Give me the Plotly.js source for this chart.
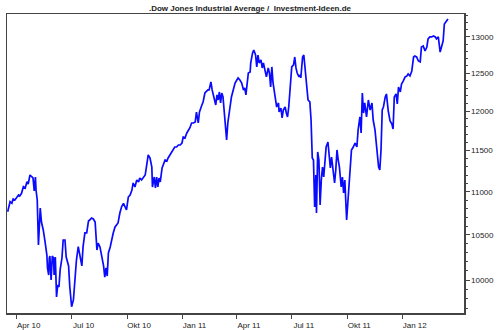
<!DOCTYPE html>
<html>
<head>
<meta charset="utf-8">
<script src="https://cdn.plot.ly/plotly-3.0.1.min.js"></script>
<style>html,body{margin:0;padding:0;background:#fff;}#chart{width:500px;height:330px;}</style>
</head>
<body>
<div id="chart"></div>
<script>
const dates = [
"2010-03-17","2010-03-21","2010-03-24","2010-03-26","2010-03-29","2010-04-04","2010-04-06","2010-04-09","2010-04-12","2010-04-15",
"2010-04-18","2010-04-20","2010-04-23","2010-04-26","2010-04-28","2010-04-30","2010-05-02","2010-05-03","2010-05-05","2010-05-07",
"2010-05-09","2010-05-10","2010-05-12","2010-05-15","2010-05-18","2010-05-21","2010-05-22","2010-05-24","2010-05-25","2010-05-26",
"2010-05-28","2010-05-30","2010-06-01","2010-06-02","2010-06-04","2010-06-06","2010-06-08","2010-06-10","2010-06-12","2010-06-15",
"2010-06-17","2010-06-20","2010-06-22","2010-06-26","2010-06-28","2010-07-01","2010-07-04","2010-07-07","2010-07-09","2010-07-12",
"2010-07-15","2010-07-18","2010-07-20","2010-07-23","2010-07-26","2010-07-29","2010-07-31","2010-08-03","2010-08-06","2010-08-09",
"2010-08-12","2010-08-14","2010-08-17","2010-08-20","2010-08-23","2010-08-25","2010-08-27","2010-08-29","2010-08-31","2010-09-03",
"2010-09-05","2010-09-08","2010-09-11","2010-09-14","2010-09-16","2010-09-19","2010-09-22","2010-09-25","2010-09-28","2010-09-30",
"2010-10-03","2010-10-06","2010-10-09","2010-10-11","2010-10-14","2010-10-17","2010-10-20","2010-10-22","2010-10-25","2010-10-28",
"2010-10-31","2010-11-02","2010-11-05","2010-11-08","2010-11-11","2010-11-12","2010-11-15","2010-11-17","2010-11-19","2010-11-21",
"2010-11-23","2010-11-25","2010-11-28","2010-12-03","2010-12-06","2010-12-08","2010-12-11","2010-12-14","2010-12-17","2010-12-19",
"2010-12-22","2010-12-25","2010-12-28","2010-12-31","2011-01-02","2011-01-05","2011-01-08","2011-01-11","2011-01-13","2011-01-16",
"2011-01-19","2011-01-22","2011-01-24","2011-01-27","2011-01-29","2011-02-02","2011-02-04","2011-02-07","2011-02-09","2011-02-12",
"2011-02-14","2011-02-15","2011-02-17","2011-02-19","2011-02-21","2011-02-23","2011-02-25","2011-02-27","2011-03-01","2011-03-03",
"2011-03-05","2011-03-07","2011-03-09","2011-03-11","2011-03-13","2011-03-15","2011-03-17","2011-03-19","2011-03-21","2011-03-23",
"2011-03-26","2011-03-29","2011-04-01","2011-04-03","2011-04-06","2011-04-09","2011-04-12","2011-04-14","2011-04-16","2011-04-18",
"2011-04-20","2011-04-23","2011-04-24","2011-04-27","2011-04-29","2011-05-02","2011-05-04","2011-05-06","2011-05-08","2011-05-11",
"2011-05-13","2011-05-15","2011-05-18","2011-05-20","2011-05-23","2011-05-25","2011-05-27","2011-05-29","2011-05-31","2011-06-03",
"2011-06-06","2011-06-09","2011-06-10","2011-06-13","2011-06-15","2011-06-17","2011-06-20","2011-06-22","2011-06-24","2011-06-26",
"2011-06-28","2011-07-01","2011-07-04","2011-07-06","2011-07-08","2011-07-10","2011-07-13","2011-07-15","2011-07-16","2011-07-19",
"2011-07-21","2011-07-23","2011-07-26","2011-07-28","2011-07-31","2011-08-02","2011-08-04","2011-08-06","2011-08-08","2011-08-10",
"2011-08-11","2011-08-13","2011-08-15","2011-08-17","2011-08-19","2011-08-21","2011-08-23","2011-08-25","2011-08-27","2011-08-30",
"2011-09-01","2011-09-03","2011-09-05","2011-09-07","2011-09-10","2011-09-12","2011-09-14","2011-09-16","2011-09-18","2011-09-21",
"2011-09-23","2011-09-25","2011-09-27","2011-09-30","2011-10-02","2011-10-04","2011-10-06","2011-10-08","2011-10-11","2011-10-14",
"2011-10-17","2011-10-19","2011-10-22","2011-10-24","2011-10-26","2011-10-28","2011-10-30","2011-11-02","2011-11-05","2011-11-08",
"2011-11-11","2011-11-13","2011-11-16","2011-11-19","2011-11-22","2011-11-24","2011-11-26","2011-11-28","2011-11-30","2011-12-03",
"2011-12-05","2011-12-08","2011-12-11","2011-12-14","2011-12-16","2011-12-18","2011-12-21","2011-12-23","2011-12-25","2011-12-28",
"2011-12-30","2012-01-02","2012-01-05","2012-01-08","2012-01-10","2012-01-13","2012-01-16","2012-01-19","2012-01-21","2012-01-24",
"2012-01-27","2012-01-30","2012-02-01","2012-02-04","2012-02-07","2012-02-10","2012-02-12","2012-02-15","2012-02-18","2012-02-21",
"2012-02-24","2012-02-26","2012-02-29","2012-03-03","2012-03-06","2012-03-08","2012-03-10","2012-03-13","2012-03-16"
];
const dowValues = [
10765,10882,10863,10914,10902,10961,10949,10981,11060,11044,
11120,11092,11200,11180,11164,11008,11176,11020,10902,10385,
10785,10808,10646,10555,10419,10273,10131,10054,10240,10262,
10000,10262,10240,10054,10251,9818,9946,9925,10109,10240,
10441,10441,10251,10153,9925,9716,9787,10032,10218,10366,
10251,10153,10366,10521,10521,10658,10669,10692,10681,10646,
10329,10407,10363,10251,10153,10032,10131,10043,10296,10363,
10441,10521,10589,10612,10635,10750,10824,10863,10820,10785,
10937,10961,11020,11104,11056,11140,11116,11164,11140,11176,
11200,11297,11445,11408,11297,11056,11176,11044,11176,11056,
11164,11116,11285,11383,11371,11408,11445,11482,11507,11544,
11544,11569,11569,11594,11669,11656,11720,11758,11783,11847,
11847,11860,11988,11847,11988,12080,12119,12237,12250,12277,
12277,12304,12383,12277,12185,12145,12080,12211,12145,12250,
12106,12237,12185,11988,11885,11631,11847,11988,12106,12185,
12277,12370,12410,12437,12410,12370,12277,12304,12211,12370,
12504,12518,12640,12777,12818,12749,12586,12749,12640,12681,
12572,12640,12545,12451,12572,12504,12317,12586,12370,12185,
12053,12106,11988,12040,11911,12014,12053,11975,11924,12053,
12317,12586,12613,12722,12572,12504,12451,12478,12437,12722,
12749,12586,12383,12145,12119,11885,11408,11383,10820,11200,
10750,11482,11383,10843,11140,11297,11176,11346,11544,11606,
11420,11285,11420,11261,11104,11261,11507,11383,11297,11056,
11176,10985,11140,10669,10902,11140,11346,11507,11544,11594,
11544,11758,11924,11720,12237,11975,12106,11924,12145,12014,
12106,11885,11758,11544,11297,11261,11507,12014,12053,12185,
12224,12001,11872,11834,11771,12185,12224,12093,12317,12250,
12357,12397,12451,12464,12491,12464,12531,12722,12735,12722,
12667,12654,12860,12874,12804,12860,12972,13000,13000,13014,
13000,12972,13000,12790,12874,12944,13183,13226,13254
];
const xTickVals = ["2010-04-01","2010-07-01","2010-10-01","2011-01-01","2011-04-01","2011-07-01","2011-10-01","2012-01-01"];
const xTickText = ["Apr 10","Jul 10","Okt 10","Jan 11","Apr 11","Jul 11","Okt 11","Jan 12"];
const yTickVals = [10000,10500,11000,11500,12000,12500,13000];
const yTickText = ["10000","10500","11000","11500","12000","12500","13000"];
const yMinorVals = [9700,9800,9900,10100,10200,10300,10400,10600,10700,10800,10900,11100,11200,11300,11400,11600,11700,11800,11900,12100,12200,12300,12400,12600,12700,12800,12900,13100,13200,13300];
const chartTitle = ".Dow Jones Industrial Average /  Investment-Ideen.de";

const font = "Liberation Sans, Arial, sans-serif";
const trace = {
  x: dates, y: dowValues, type: "scatter", mode: "lines",
  line: {color: "#0a0aff", width: 1.7}, hoverinfo: "skip"
};
const layout = {
  width: 500, height: 330,
  margin: {l: 7, r: 36, t: 14, b: 17, pad: 0},
  paper_bgcolor: "#ffffff", plot_bgcolor: "#ffffff",
  showlegend: false,
  title: {text: chartTitle, x: 0.5, xanchor: "center", xref: "container",
          y: 1 - 8/330, yanchor: "middle", yref: "container",
          font: {family: font, size: 8, color: "#222", weight: "bold"}},
  xaxis: {
    type: "date", range: ["2010-03-15 21:00", "2012-04-11 14:00"],
    tickmode: "array", tickvals: xTickVals, ticktext: xTickText,
    ticks: "outside", ticklen: 4, tickwidth: 1, tickcolor: "#444",
    ticklabelshift: 12,
    tickfont: {family: font, size: 8, color: "#222"},
    showgrid: false, zeroline: false,
    showline: true, linecolor: "#444", linewidth: 1.5, mirror: true
  },
  yaxis: {
    type: "log", side: "right",
    range: [Math.log10(9650), Math.log10(13326)],
    tickmode: "array", tickvals: yTickVals, ticktext: yTickText,
    ticks: "outside", ticklen: 4, tickwidth: 1, tickcolor: "#444",
    tickfont: {family: font, size: 8, color: "#222"},
    minor: {tickmode: "array", tickvals: yMinorVals, ticks: "outside", ticklen: 2, tickcolor: "#444", tickwidth: 1, showgrid: false},
    showgrid: false, zeroline: false,
    showline: true, linecolor: "#444", linewidth: 1.5, mirror: true
  }
};
Plotly.newPlot("chart", [trace], layout, {staticPlot: true, displayModeBar: false});
</script>
</body>
</html>
